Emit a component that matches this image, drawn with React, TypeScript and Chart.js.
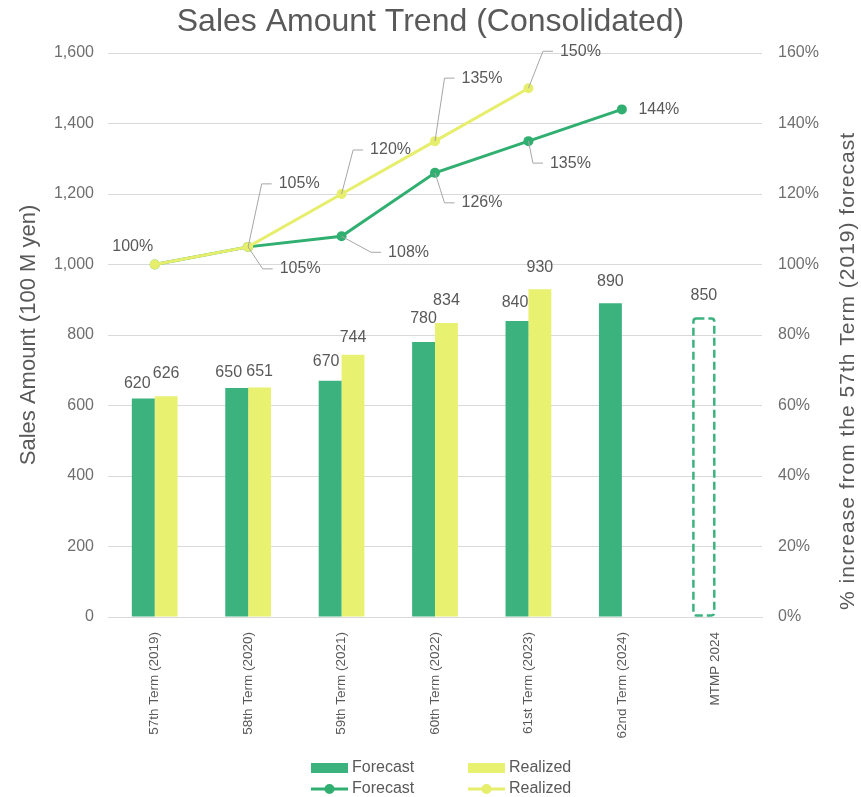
import React, { useEffect, useRef } from "react";
import { Chart, registerables } from "chart.js";

Chart.register(...registerables);

// ---------- data ----------
const categories = [
  "57th Term (2019)",
  "58th Term (2020)",
  "59th Term (2021)",
  "60th Term (2022)",
  "61st Term (2023)",
  "62nd Term (2024)",
  "MTMP 2024",
];
const forecastSales = [620, 650, 670, 780, 840, 890, null];
const realizedSales = [626, 651, 744, 834, 930, null, null];
const mtmpTarget = [null, null, null, null, null, null, 850];
const forecastPct = [100, 105, 108, 126, 135, 144, null];
const realizedPct = [100, 105, 120, 135, 150, null, null];

const chartTitle = "Sales Amount Trend (Consolidated)";
const leftTitle = "Sales Amount (100 M yen)";
const rightTitle = "% increase from the 57th Term (2019) forecast";
const seriesNames = ["Forecast", "Realized"];

// ---------- style ----------
const FONT = "'Liberation Sans', Arial, sans-serif";
const TEXT = "#595959";
const TICK = "#6f6f6f";
const GRID = "#d9d9d9";
const GREEN_BAR = "#3cb37f";
const YELLOW_BAR = "#e9f170";
const GREEN_LINE = "#31af71";
const YELLOW_LINE = "#e6ee6c";
const LEADER = "#a6a6a6";

// label offsets (px) relative to bar tops / points
const forecastBarLabelOffset = [[-6, -15], [-8, -15], [-4, -19], [0, -23], [-2, -18], [0, -22], [0, -22]];
const realizedBarLabelOffset = [[0, -23], [0, -16], [0, -17], [0, -22], [0, -22], [0, -22], [0, -22]];
const mtmpLabelOffset = [0, -22];
type PL = { dx: number; dy: number; leader: boolean } | null;
const forecastPctLabel: PL[] = [
  null,
  { dx: 52, dy: 22, leader: true },
  { dx: 67, dy: 16, leader: true },
  { dx: 47, dy: 30, leader: true },
  { dx: 42, dy: 22, leader: true },
  { dx: 37, dy: 0, leader: false },
  null,
];
const realizedPctLabel: PL[] = [
  { dx: -22, dy: -18, leader: false },
  { dx: 51, dy: -63, leader: true },
  { dx: 49, dy: -44, leader: true },
  { dx: 47, dy: -63, leader: true },
  { dx: 52, dy: -37, leader: true },
  null,
  null,
];

const overlayPlugin = {
  id: "overlay",
  afterDatasetsDraw(chart: any) {
    const ctx: CanvasRenderingContext2D = chart.ctx;
    ctx.save();

    // dashed MTMP bar
    const mMeta = chart.getDatasetMeta(4);
    mMeta.data.forEach((el: any, i: number) => {
      if (mtmpTarget[i] == null) return;
      const w = el.width;
      const x0 = el.x - w / 2 + 1;
      const x1 = el.x + w / 2 - 1;
      const y0 = el.y + 1;
      const y1 = el.base - 1;
      ctx.save();
      ctx.strokeStyle = GREEN_BAR;
      ctx.lineWidth = 2.5;
      ctx.setLineDash([8, 4]);
      ctx.beginPath();
      const r = 3;
      ctx.moveTo(x0 + r, y0);
      ctx.lineTo(x1 - r, y0);
      ctx.quadraticCurveTo(x1, y0, x1, y0 + r);
      ctx.lineTo(x1, y1 - r);
      ctx.quadraticCurveTo(x1, y1, x1 - r, y1);
      ctx.lineTo(x0 + r, y1);
      ctx.quadraticCurveTo(x0, y1, x0, y1 - r);
      ctx.lineTo(x0, y0 + r);
      ctx.quadraticCurveTo(x0, y0, x0 + r, y0);
      ctx.stroke();
      ctx.restore();
    });

    // bar labels
    ctx.font = `16px ${FONT}`;
    ctx.fillStyle = TEXT;
    ctx.textAlign = "center";
    ctx.textBaseline = "middle";
    const drawBarLabels = (dsIndex: number, values: (number | null)[], offs: (i: number) => number[]) => {
      const meta = chart.getDatasetMeta(dsIndex);
      meta.data.forEach((el: any, i: number) => {
        const v = values[i];
        if (v == null) return;
        const [dx, dy] = offs(i);
        ctx.fillText(String(v), el.x + dx, el.y + dy);
      });
    };
    drawBarLabels(2, forecastSales, (i) => forecastBarLabelOffset[i]);
    drawBarLabels(3, realizedSales, (i) => realizedBarLabelOffset[i]);
    drawBarLabels(4, mtmpTarget, () => mtmpLabelOffset);

    // line labels with leaders
    const drawPct = (dsIndex: number, values: (number | null)[], cfg: PL[]) => {
      const meta = chart.getDatasetMeta(dsIndex);
      meta.data.forEach((el: any, i: number) => {
        const v = values[i];
        const c = cfg[i];
        if (v == null || !c) return;
        const text = `${v}%`;
        const cx = el.x + c.dx;
        const cy = el.y + c.dy;
        const tw = ctx.measureText(text).width;
        if (c.leader) {
          const left = cx - tw / 2;
          ctx.save();
          ctx.strokeStyle = LEADER;
          ctx.lineWidth = 1;
          ctx.beginPath();
          ctx.moveTo(el.x, el.y);
          ctx.lineTo(left - 17, cy);
          ctx.lineTo(left - 7, cy);
          ctx.stroke();
          ctx.restore();
        }
        ctx.fillStyle = TEXT;
        ctx.fillText(text, cx, cy);
      });
    };
    drawPct(1, forecastPct, forecastPctLabel);
    drawPct(0, realizedPct, realizedPctLabel);

    // right axis title (bottom-to-top)
    ctx.save();
    ctx.translate(848, 371);
    ctx.rotate(-Math.PI / 2);
    ctx.font = `21px ${FONT}`;
    (ctx as any).letterSpacing = "1px";
    ctx.fillStyle = TEXT;
    ctx.textAlign = "center";
    ctx.textBaseline = "middle";
    ctx.fillText(rightTitle, 0, 0);
    ctx.restore();

    // legend (2 x 2)
    ctx.font = `16px ${FONT}`;
    ctx.textAlign = "left";
    ctx.textBaseline = "middle";
    const cols = [311, 468];
    const rows = [768, 789];
    const barColors = [GREEN_BAR, YELLOW_BAR];
    const lineColors = [GREEN_LINE, YELLOW_LINE];
    for (let k = 0; k < 2; k++) {
      const x = cols[k];
      ctx.fillStyle = barColors[k];
      ctx.fillRect(x, rows[0] - 5, 37, 10);
      ctx.fillStyle = TEXT;
      ctx.fillText(seriesNames[k], x + 41, rows[0]);
      ctx.strokeStyle = lineColors[k];
      ctx.lineWidth = 3;
      ctx.beginPath();
      ctx.moveTo(x, rows[1]);
      ctx.lineTo(x + 37, rows[1]);
      ctx.stroke();
      ctx.fillStyle = lineColors[k];
      ctx.beginPath();
      ctx.arc(x + 18.5, rows[1], 5, 0, Math.PI * 2);
      ctx.fill();
      ctx.fillStyle = TEXT;
      ctx.fillText(seriesNames[k], x + 41, rows[1]);
    }

    ctx.restore();
  },
};

export default function App() {
  const canvasRef = useRef<HTMLCanvasElement | null>(null);

  useEffect(() => {
    if (!canvasRef.current) return;
    Chart.defaults.font.family = FONT;
    const chart = new Chart(canvasRef.current, {
      type: "bar",
      data: {
        labels: categories,
        datasets: [
          {
            type: "line",
            label: seriesNames[1],
            data: realizedPct,
            yAxisID: "y1",
            borderColor: YELLOW_LINE,
            backgroundColor: YELLOW_LINE,
            borderWidth: 3,
            pointRadius: 5,
            pointBorderWidth: 0,
            pointBackgroundColor: YELLOW_LINE,
            order: 0,
          } as any,
          {
            type: "line",
            label: seriesNames[0],
            data: forecastPct,
            yAxisID: "y1",
            borderColor: GREEN_LINE,
            backgroundColor: GREEN_LINE,
            borderWidth: 3,
            pointRadius: 5,
            pointBorderWidth: 0,
            pointBackgroundColor: GREEN_LINE,
            order: 1,
          } as any,
          {
            type: "bar",
            label: seriesNames[0],
            data: forecastSales,
            yAxisID: "y",
            backgroundColor: GREEN_BAR,
            stack: "f",
            order: 2,
            barPercentage: 1,
            categoryPercentage: 0.49,
          } as any,
          {
            type: "bar",
            label: seriesNames[1],
            data: realizedSales,
            yAxisID: "y",
            backgroundColor: YELLOW_BAR,
            stack: "r",
            order: 2,
            barPercentage: 1,
            categoryPercentage: 0.49,
          } as any,
          {
            type: "bar",
            label: "MTMP",
            data: mtmpTarget,
            yAxisID: "y",
            backgroundColor: "rgba(0,0,0,0)",
            borderWidth: 0,
            stack: "f",
            order: 2,
            barPercentage: 1,
            categoryPercentage: 0.49,
          } as any,
        ],
      },
      options: {
        responsive: true,
        maintainAspectRatio: false,
        animation: false,
        layout: { padding: 0 },
        plugins: {
          legend: { display: false },
          tooltip: { enabled: false },
          title: {
            display: true,
            text: chartTitle,
            color: TEXT,
            font: { family: FONT, size: 32, weight: "normal", lineHeight: 1.2 },
            padding: { top: 3, bottom: 11.6 },
          },
        },
        scales: {
          x: {
            grid: { display: false },
            border: { display: true, color: GRID },
            ticks: {
              autoSkip: false,
              maxRotation: 90,
              minRotation: 90,
              padding: 7,
              color: TEXT,
              font: { size: 13.5 },
            },
            afterFit: (s: any) => {
              s.height = 180;
            },
          },
          y: {
            position: "left",
            min: 0,
            max: 1600,
            stacked: false,
            grid: { color: GRID, drawTicks: false },
            border: { display: false },
            ticks: {
              stepSize: 200,
              padding: 14,
              color: TICK,
              font: { size: 16 },
              callback: (v: any) => Number(v).toLocaleString("en-US"),
            },
            title: {
              display: true,
              text: leftTitle,
              color: TEXT,
              font: { size: 22 },
              padding: { top: 16, bottom: 0 },
            },
            afterFit: (s: any) => {
              s.width = 108;
            },
          },
          y1: {
            position: "right",
            min: 0,
            max: 160,
            stacked: false,
            grid: { display: false, drawTicks: false },
            border: { display: false },
            ticks: {
              stepSize: 20,
              padding: 16,
              color: TICK,
              font: { size: 16 },
              callback: (v: any) => `${v}%`,
            },
            afterFit: (s: any) => {
              s.width = 99;
            },
          },
        },
      } as any,
      plugins: [overlayPlugin],
    });
    return () => chart.destroy();
  }, []);

  return (
    <div style={{ position: "absolute", left: 0, top: 0, width: 861, height: 797, background: "#fff" }}>
      <canvas ref={canvasRef} />
    </div>
  );
}
